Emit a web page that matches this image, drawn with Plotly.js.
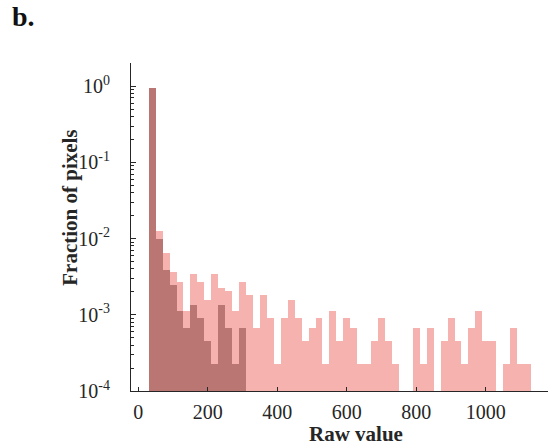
<!DOCTYPE html>
<html>
<head>
<meta charset="utf-8">
<script src="https://cdn.plot.ly/plotly-3.0.1.min.js"></script>
<style>
html,body{margin:0;padding:0;background:#fff;overflow:hidden;}
#chart{width:548px;height:447px;}
</style>
</head>
<body>
<div id="chart"></div>
<script>
// Bin centres of the 20-unit-wide histogram bins (raw value)
var binCenters = [40,60,80,100,120,140,160,180,200,220,240,260,280,300,320,340,360,380,400,420,
  440,460,480,500,520,540,560,580,600,620,640,660,680,700,720,740,760,780,800,820,
  840,860,880,900,920,940,960,980,1000,1020,1040,1060,1080,1100,1120];

// Fraction of pixels per bin, light (pink) distribution; null = empty bin
var fracLight = [0.955,1.24e-2,6.55e-3,3.62e-3,2.71e-3,1.13e-3,3.39e-3,2.71e-3,1.58e-3,3.39e-3,
  2.26e-3,2.03e-3,1.13e-3,2.71e-3,1.81e-3,6.78e-4,1.81e-3,9.04e-4,2.26e-4,9.04e-4,
  1.58e-3,9.04e-4,4.52e-4,6.78e-4,9.04e-4,2.26e-4,1.13e-3,4.52e-4,9.04e-4,6.78e-4,
  2.26e-4,2.26e-4,4.52e-4,9.04e-4,4.52e-4,2.26e-4,null,null,6.78e-4,2.26e-4,
  6.78e-4,null,4.52e-4,9.04e-4,4.52e-4,2.26e-4,6.78e-4,1.13e-3,4.52e-4,4.52e-4,
  null,2.26e-4,6.78e-4,2.26e-4,2.26e-4];

// Fraction of pixels per bin, dark distribution (first 14 bins)
var fracDark = [0.955,9.94e-3,3.84e-3,2.49e-3,1.13e-3,6.78e-4,1.36e-3,9.04e-4,4.52e-4,2.26e-4,
  1.36e-3,6.78e-4,2.26e-4,6.78e-4];

// Axis tick labels
var xTickVals = [0,200,400,600,800,1000];
var xTickText = ['0','200','400','600','800','1000'];
var yTickVals = [1e-4,1e-3,1e-2,1e-1,1];
var yTickText = ['10<sup>-4</sup>','10<sup>-3</sup>','10<sup>-2</sup>','10<sup>-1</sup>','10<sup>0</sup>'];

var minorVals = [];
for (var e = -4; e <= 0; e++) {
  for (var m = 2; m <= 9; m++) minorVals.push(m * Math.pow(10, e));
}

var serif = 'Liberation Serif, Times New Roman, serif';
var ink = '#262626';

var traces = [
  {type:'bar', x:binCenters, y:fracLight, width:20,
   marker:{color:'#F6B2AF', line:{width:0}}, hoverinfo:'x+y', name:'light'},
  {type:'bar', x:binCenters.slice(0, fracDark.length), y:fracDark, width:20,
   marker:{color:'#B97672', line:{width:0}}, hoverinfo:'x+y', name:'dark'}
];

var layout = {
  width:548, height:447,
  margin:{l:131, r:0, t:63, b:56},
  paper_bgcolor:'#fff', plot_bgcolor:'#fff',
  showlegend:false,
  barmode:'overlay', bargap:0,
  font:{family:serif, color:ink, size:20},
  xaxis:{
    range:[-21,1179], showgrid:false, zeroline:false,
    showline:true, linecolor:ink, linewidth:1, mirror:false,
    ticks:'inside', ticklen:4, tickwidth:1, tickcolor:ink,
    tickvals:xTickVals, ticktext:xTickText,
    tickfont:{family:serif, size:20, color:ink},
    ticklabelstandoff:3
  },
  yaxis:{
    type:'log', range:[-4, 0.304], showgrid:false, zeroline:false,
    showline:true, linecolor:ink, linewidth:1, mirror:false,
    ticks:'inside', ticklen:5, tickwidth:1, tickcolor:ink,
    tickvals:yTickVals, ticktext:yTickText,
    tickfont:{family:serif, size:20, color:ink},
    ticklabelstandoff:16,
    minor:{ticks:'inside', ticklen:3, tickwidth:1, tickcolor:ink, tickvals:minorVals, showgrid:false}
  },
  annotations:[
    {text:'<b>Raw value</b>', xref:'paper', yref:'paper', x:0.54, y:-0.132,
     xanchor:'center', yanchor:'middle', showarrow:false,
     font:{family:serif, size:21, color:ink}},
    {text:'<b>Fraction of pixels</b>', xref:'paper', yref:'paper', x:-0.146, y:0.559,
     xanchor:'center', yanchor:'middle', textangle:-90, showarrow:false,
     font:{family:serif, size:21, color:ink}},
    {text:'<b>b.</b>', xref:'paper', yref:'paper', x:-0.29, y:1.088,
     xanchor:'left', yanchor:'bottom', showarrow:false,
     font:{family:serif, size:28, color:'#111'}}
  ]
};

Plotly.newPlot('chart', traces, layout, {displayModeBar:false, staticPlot:true});
</script>
</body>
</html>
